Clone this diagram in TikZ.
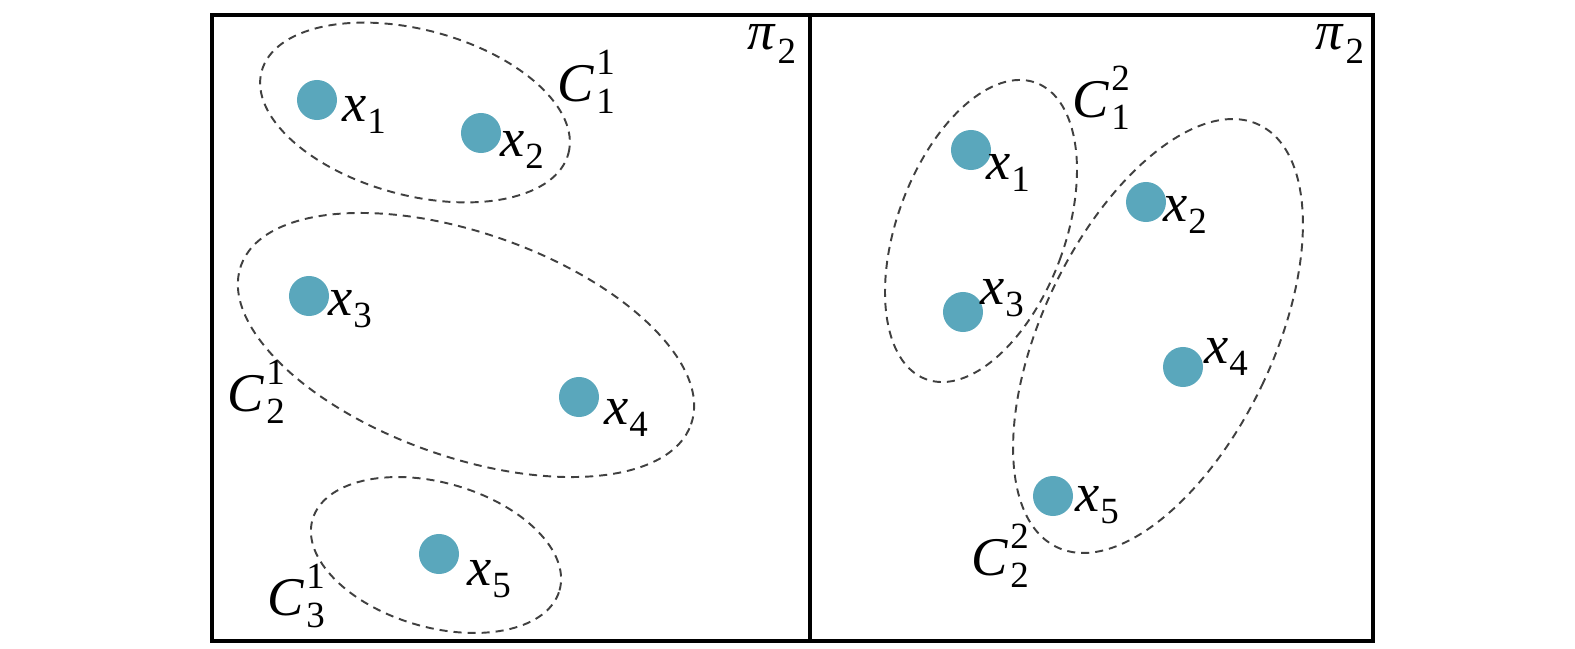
\documentclass[tikz,border=0pt]{standalone}
\usepackage{fontspec}
\setmainfont{Liberation Serif}
\usetikzlibrary{shapes.geometric}
\definecolor{dotc}{RGB}{90,167,188}
\newcommand{\subsz}{\fontsize{10.5}{10.5}\selectfont}
\newcommand{\xl}[1]{\textit{x}\kern0.02em\raisebox{-0.22em}{\subsz #1}}
\newcommand{\cl}[2]{\textit{C}\kern0.04em\rlap{\raisebox{0.5em}{\subsz #1}}\raisebox{-0.22em}{\subsz #2}}
\newcommand{\pil}{\textit{π}\kern0.02em\raisebox{-0.25em}{\subsz 2}}
\begin{document}
\begin{tikzpicture}[x=0.01cm,y=-0.01cm,
  dot/.style={circle,fill=dotc,minimum size=0.4cm,inner sep=0pt},
  clus/.style={draw=black!75,ellipse,dash pattern=on 2.3pt off 1.7pt,line width=0.55pt,inner sep=0pt},
  lab/.style={inner sep=0pt,font=\fontsize{15.5}{18}\selectfont},
  frame/.style={line width=1.1pt}]
\useasboundingbox (0,0) rectangle (1575,648);
% frame
\coordinate (tl) at (212,15);
\coordinate (br) at (1373,641);
\coordinate (dt) at (810,15);
\coordinate (db) at (810,641);
\draw[frame] (tl) rectangle (br);
\draw[frame] (dt) -- (db);
% clusters
\node[clus,minimum width=3.174cm,minimum height=1.654cm,rotate=-15] (c11) at (415,112.5) {};
\node[clus,minimum width=4.77cm,minimum height=2.238cm,rotate=-19.4] (c21) at (466,345) {};
\node[clus,minimum width=2.568cm,minimum height=1.444cm,rotate=-16] (c31) at (436,555) {};
\node[clus,minimum width=1.676cm,minimum height=3.16cm,rotate=-20.4] (c12) at (981,231) {};
\node[clus,minimum width=2.30cm,minimum height=4.68cm,rotate=-25.6] (c22) at (1158,336) {};
% left dots
\node[dot] (l1) at (317,100) {};
\node[dot] (l2) at (481,133) {};
\node[dot] (l3) at (309,296) {};
\node[dot] (l4) at (579,397) {};
\node[dot] (l5) at (439,554) {};
% right dots
\node[dot] (r1) at (971,150) {};
\node[dot] (r2) at (1146,202) {};
\node[dot] (r3) at (963,312) {};
\node[dot] (r4) at (1183,367) {};
\node[dot] (r5) at (1053,496) {};
% point labels
\node[lab] (tl1) at (364,115) {\xl{1}};
\node[lab] (tl2) at (522,150) {\xl{2}};
\node[lab] (tl3) at (350,309) {\xl{3}};
\node[lab] (tl4) at (626,418) {\xl{4}};
\node[lab] (tl5) at (489,579) {\xl{5}};
\node[lab] (tr1) at (1008,173) {\xl{1}};
\node[lab] (tr2) at (1185,215) {\xl{2}};
\node[lab] (tr3) at (1002,298) {\xl{3}};
\node[lab] (tr4) at (1226,357) {\xl{4}};
\node[lab] (tr5) at (1097,505) {\xl{5}};
% cluster labels
\node[lab] (tc11) at (586,82) {\cl{1}{1}};
\node[lab] (tc21) at (256,392) {\cl{1}{2}};
\node[lab] (tc31) at (296,596) {\cl{1}{3}};
\node[lab] (tc12) at (1101,98) {\cl{2}{1}};
\node[lab] (tc22) at (1000,556) {\cl{2}{2}};
% pi labels
\node[lab] (pl) at (772,44) {\pil};
\node[lab] (pr) at (1340,44) {\pil};
\end{tikzpicture}
\end{document}
